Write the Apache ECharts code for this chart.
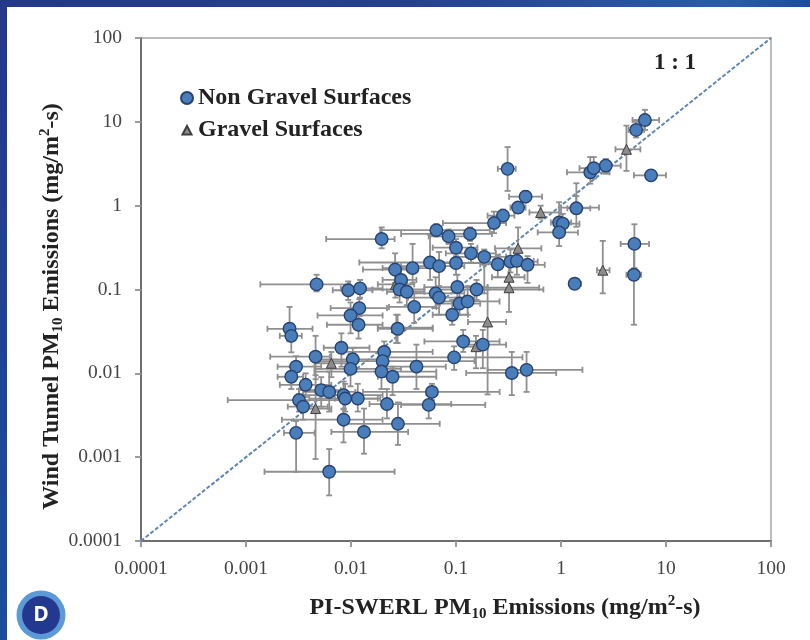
<!DOCTYPE html>
<html>
<head>
<meta charset="utf-8">
<style>html,body{margin:0;padding:0;background:#fff}#c{width:810px;height:640px;filter:blur(0.5px)}</style>
<script src="https://cdn.jsdelivr.net/npm/echarts@6/dist/echarts.min.js"></script>
</head>
<body>
<div id="c"></div>
<script>
// each row: x, y, xLow, xHigh, yLow, yHigh
const nonGravel = [
[6.3,10.5,4.8,8.6,8,13.9],[5.2,8,4.4,6.2,6.5,10],[7.2,2.3,4.95,10,2,2.6],[2.67,3,2,3.7,2.4,3.6],
[1.9,2.5,1.14,2.9,1.83,3.8],[2.05,2.8,1.5,2.9,2.1,3.8],[0.31,2.75,0.25,0.37,1.5,5],[0.46,1.28,0.32,0.66,1.1,1.5],
[0.39,0.95,0.33,0.46,0.85,1.05],[0.28,0.76,0.2,0.36,0.65,0.9],[0.23,0.62,0.075,0.3,0.47,0.85],[0.96,0.63,0.8,1.25,0.5,1.1],
[1.04,0.61,0.85,1.5,0.5,0.8],[0.96,0.48,0.6,1.45,0.33,0.62],[0.065,0.51,0.019,0.21,0.43,0.6],[0.085,0.43,0.055,0.14,0.35,0.52],
[0.136,0.46,0.03,0.22,0.38,0.55],[0.1,0.315,0.06,0.16,0.25,0.4],[0.139,0.27,0.08,0.24,0.21,0.35],[0.186,0.245,0.1,0.3,0.09,0.3],
[0.1,0.207,0.05,0.18,0.15,0.28],[0.0566,0.21,0.012,0.09,0.13,0.45],[0.069,0.19,0.03,0.12,0.09,0.28],[0.0386,0.18,0.02,0.07,0.12,0.35],
[0.0263,0.173,0.013,0.04,0.12,0.27],[0.25,0.2,0.17,0.36,0.14,0.26],[0.33,0.215,0.24,0.6,0.16,0.3],[0.38,0.22,0.26,0.55,0.15,0.3],
[0.48,0.197,0.33,0.7,0.12,0.25],[5,0.35,3.7,6.9,0.18,0.6],[4.95,0.15,4.2,5.8,0.038,0.35],[1.35,0.117,1.2,1.55,0.105,0.13],
[0.103,0.107,0.05,0.2,0.08,0.15],[0.157,0.1,0.06,0.68,0.075,0.13],[0.064,0.09,0.03,0.12,0.06,0.14],[0.069,0.08,0.035,0.15,0.05,0.11],
[0.03,0.13,0.02,0.042,0.09,0.18],[0.029,0.1,0.016,0.05,0.07,0.14],[0.034,0.094,0.022,0.05,0.065,0.13],[0.04,0.062,0.023,0.065,0.04,0.09],
[0.108,0.068,0.07,0.17,0.05,0.1],[0.129,0.072,0.07,0.26,0.05,0.11],[0.092,0.05,0.06,0.13,0.038,0.075],[0.0278,0.034,0.018,0.06,0.023,0.05],
[0.117,0.024,0.05,0.26,0.018,0.033],[0.18,0.022,0.12,0.3,0.0115,0.033],[0.096,0.0155,0.02,0.43,0.011,0.021],[0.042,0.012,0.022,0.08,0.0065,0.022],
[0.34,0.0101,0.125,0.9,0.0055,0.018],[0.47,0.011,0.2,1.6,0.006,0.018],[0.059,0.006,0.013,0.26,0.0048,0.0075],[0.055,0.0042,0.03,0.19,0.0029,0.0055],
[0.028,0.0025,0.0085,0.07,0.0014,0.0045],[0.022,0.0043,0.015,0.09,0.0029,0.0065],[0.0133,0.002,0.0065,0.035,0.0011,0.0038],[0.0085,0.0028,0.0022,0.02,0.0015,0.0037],
[0.0085,0.0055,0.0035,0.02,0.0038,0.008],[0.0088,0.005,0.004,0.018,0.0035,0.0075],[0.0116,0.005,0.007,0.019,0.0035,0.0075],[0.0249,0.0091,0.018,0.065,0.0055,0.012],
[0.0207,0.018,0.0085,0.06,0.0135,0.024],[0.02,0.014,0.005,0.15,0.0105,0.018],[0.0195,0.0105,0.0045,0.065,0.0065,0.014],[0.0196,0.4,0.0058,0.026,0.31,0.55],
[0.0047,0.115,0.00137,0.0098,0.095,0.15],[0.0094,0.098,0.0067,0.016,0.075,0.125],[0.0122,0.103,0.008,0.02,0.08,0.13],[0.012,0.06,0.0064,0.022,0.048,0.077],
[0.0099,0.049,0.0048,0.02,0.03,0.07],[0.0118,0.038,0.0059,0.02,0.026,0.05],[0.0026,0.034,0.0016,0.0043,0.024,0.062],[0.0027,0.028,0.0021,0.0034,0.0178,0.038],
[0.0081,0.0202,0.0055,0.015,0.012,0.03],[0.0046,0.0158,0.0017,0.0063,0.0085,0.028],[0.0104,0.0147,0.0048,0.018,0.0105,0.02],[0.0099,0.0113,0.0045,0.03,0.007,0.017],
[0.003,0.012,0.002,0.0052,0.009,0.016],[0.0027,0.0091,0.002,0.0035,0.0065,0.012],[0.0037,0.0073,0.0021,0.0065,0.0052,0.01],[0.0052,0.0063,0.0032,0.008,0.004,0.009],
[0.0062,0.006,0.0035,0.011,0.0035,0.0105],[0.0032,0.0048,0.00067,0.008,0.0035,0.0065],[0.0035,0.004,0.0025,0.006,0.0028,0.0055],[0.003,0.00195,0.0023,0.0045,0.00067,0.0027],
[0.0062,0.00067,0.0015,0.026,0.00035,0.00125],[1.4,0.93,1.15,1.9,0.8,1.3]
];
const gravel = [
[4.2,4.7,3.3,5.7,2.6,9],[1.4,0.95,1,2.3,0.56,1.85],[0.64,0.83,0.5,1,0.7,1],[0.39,0.31,0.235,0.65,0.19,0.55],
[0.32,0.14,0.22,0.45,0.1,0.2],[0.32,0.105,0.2,0.62,0.054,0.14],[2.5,0.17,2.2,2.9,0.09,0.38],[0.2,0.041,0.13,0.3,0.0056,0.1],
[0.155,0.0208,0.12,0.2,0.0115,0.028],[0.0265,0.115,0.018,0.04,0.08,0.17],[0.027,0.035,0.018,0.06,0.023,0.05],[0.0065,0.0132,0.0045,0.011,0.009,0.018],
[0.0046,0.0038,0.0032,0.0065,0.00095,0.0095]
];
const oneToOne = [[0.0001,0.0001],[100,100]];
const tickLabels = {'-4':'0.0001','-3':'0.001','-2':'0.01','-1':'0.1','0':'1','1':'10','2':'100'};
const fmt = v => tickLabels[String(Math.round(Math.log10(v)))];
const serif = '"Liberation Serif"';

function errItem(params, api){
  const x=api.value(0),y=api.value(1),c=[api.coord([x,y]),api.coord([api.value(2),y]),api.coord([api.value(3),y]),api.coord([x,api.value(4)]),api.coord([x,api.value(5)])];
  const cap=3, st={stroke:'#8f8f8f',lineWidth:1.8,fill:null};
  const seg=(a,b,d,e)=>({type:'line',shape:{x1:a,y1:b,x2:d,y2:e},style:st});
  return {type:'group',children:[
    seg(c[1][0],c[1][1],c[2][0],c[2][1]),seg(c[3][0],c[3][1],c[4][0],c[4][1]),
    seg(c[1][0],c[1][1]-cap,c[1][0],c[1][1]+cap),seg(c[2][0],c[2][1]-cap,c[2][0],c[2][1]+cap),
    seg(c[3][0]-cap,c[3][1],c[3][0]+cap,c[3][1]),seg(c[4][0]-cap,c[4][1],c[4][0]+cap,c[4][1])
  ]};
}
const axisBase = {
  type:'log',logBase:10,min:0.0001,max:100,
  splitLine:{show:false},minorTick:{show:false},
  axisLine:{show:true,onZero:false,lineStyle:{color:'#6e6e6e',width:2}},
  axisTick:{show:true,length:6,lineStyle:{color:'#9a9a9a',width:2}},
};
const nameRich = {s:{fontFamily:serif,fontWeight:'bold',fontSize:15,color:'#222',verticalAlign:'bottom',lineHeight:28},
                  u:{fontFamily:serif,fontWeight:'bold',fontSize:15,color:'#222',verticalAlign:'top',lineHeight:28}};
const chart = echarts.init(document.getElementById('c'),null,{renderer:'canvas'});
chart.setOption({
  animation:false,backgroundColor:'#fff',
  grid:{left:141,right:39,top:38,bottom:99,show:true,borderColor:'#bdbdbd',borderWidth:2,backgroundColor:'transparent'},
  legend:{left:175,top:81,orient:'vertical',itemWidth:12,itemHeight:12,itemGap:8,
    data:[{name:'Non Gravel Surfaces'},{name:'Gravel Surfaces',icon:'path://M0,0L0,0M12,12L12,12M6,2L10.5,10.5L1.5,10.5Z'}],
    textStyle:{fontFamily:serif,fontWeight:'bold',fontSize:24,color:'#222',padding:[0,0,0,0]}},
  xAxis:Object.assign({},axisBase,{
    axisLabel:{formatter:fmt,fontFamily:serif,fontSize:19.5,color:'#444',margin:18},
    name:'PI-SWERL PM{s|10} Emissions (mg/m{u|2}-s)',nameLocation:'middle',nameGap:53,nameMoveOverlap:false,
    nameTextStyle:{fontFamily:serif,fontWeight:'bold',fontSize:24,color:'#222',padding:[0,0,0,98],rich:nameRich}
  }),
  yAxis:Object.assign({},axisBase,{
    axisLabel:{formatter:fmt,fontFamily:serif,fontSize:19.5,color:'#444',margin:19},
    name:'Wind Tunnel PM{s|10} Emissions (mg/m{u|2}-s)',nameLocation:'middle',nameGap:75,nameRotate:90,nameMoveOverlap:false,
    nameTextStyle:{fontFamily:serif,fontWeight:'bold',fontSize:24,color:'#222',padding:[0,0,0,-34],rich:nameRich}
  }),
  series:[
    {type:'line',name:'1:1',data:oneToOne,symbol:'none',silent:true,z:2,lineStyle:{color:'#5f86b5',width:2,type:[4,2]}},
    {type:'custom',name:'errors',renderItem:errItem,data:nonGravel.concat(gravel),silent:true,z:3,encode:{x:0,y:1}},
    {type:'scatter',name:'Gravel Surfaces',data:gravel.map(r=>[r[0],r[1]]),symbol:'triangle',symbolSize:10,z:4,
      itemStyle:{color:'#8c8c8c',borderColor:'#3f3f3f',borderWidth:1,opacity:1}},
    {type:'scatter',name:'Non Gravel Surfaces',data:nonGravel.map(r=>[r[0],r[1]]),symbol:'circle',symbolSize:12.5,z:5,
      itemStyle:{color:'#4a7ebb',borderColor:'#27426f',borderWidth:1.4,opacity:1}},
  ],
  graphic:[
    {type:'rect',shape:{x:0,y:0,width:810,height:7},z:100,style:{fill:new echarts.graphic.LinearGradient(0,0,1,0,[{offset:0,color:'#25388a'},{offset:0.5,color:'#24408f'},{offset:0.9,color:'#2a5cab'},{offset:1,color:'#1b4c9f'}])}},
    {type:'rect',shape:{x:0,y:0,width:7,height:640},z:100,style:{fill:new echarts.graphic.LinearGradient(0,0,0,1,[{offset:0,color:'#25388a'},{offset:1,color:'#1c4c9e'}])}},
    {type:'circle',shape:{cx:41,cy:615,r:24.5},z:100,style:{fill:'#5b9ad6'}},
    {type:'circle',shape:{cx:41,cy:615,r:19},z:101,style:{fill:'#23398f'}},
    {type:'text',x:41,y:615,z:102,style:{text:'D',fill:'#fff',font:'bold 21px "Open Sans"',align:'center',verticalAlign:'middle'}},
    {type:'text',x:675,y:63,z:50,style:{text:'1 : 1',fill:'#222',font:'bold 23px "Liberation Serif"',align:'center',verticalAlign:'middle'}}
  ]
});
</script>
</body>
</html>
